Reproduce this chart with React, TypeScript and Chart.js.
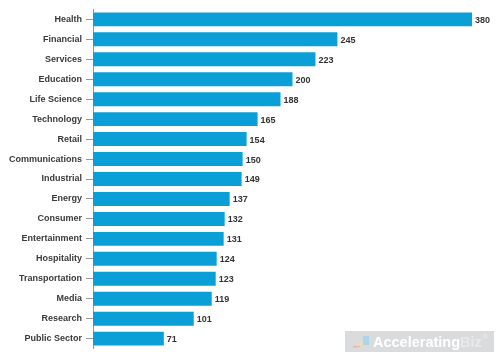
import React, { useEffect, useRef } from "react";
import { Chart, registerables } from "chart.js";

Chart.register(...registerables);

const categories = [
  "Health", "Financial", "Services", "Education", "Life Science", "Technology",
  "Retail", "Communications", "Industrial", "Energy", "Consumer", "Entertainment",
  "Hospitality", "Transportation", "Media", "Research", "Public Sector",
];
const values = [380, 245, 223, 200, 188, 165, 154, 150, 149, 137, 132, 131, 124, 123, 119, 101, 71];
const xMax = 400;
const watermarkMain = "Accelerating";
const watermarkEnd = "Biz";

const FONT = "'Liberation Sans', Arial, Helvetica, sans-serif";

const valueLabels = {
  id: "valueLabels",
  afterDatasetsDraw(chart: any) {
    const ctx = chart.ctx;
    const meta = chart.getDatasetMeta(0);
    ctx.save();
    ctx.font = `bold 9px ${FONT}`;
    ctx.fillStyle = "#333333";
    ctx.textAlign = "left";
    ctx.textBaseline = "middle";
    meta.data.forEach((bar: any, i: number) => {
      ctx.fillText(String(values[i]), bar.x + 3, bar.y + 1);
    });
    ctx.restore();
  },
};

const watermark = {
  id: "watermark",
  afterDraw(chart: any) {
    const ctx = chart.ctx;
    ctx.save();
    const x = 345, y = 331, w = 149, h = 21;
    ctx.fillStyle = "#d9dbdd";
    ctx.fillRect(x, y, w, h);
    // small icon
    ctx.lineWidth = 2;
    ctx.strokeStyle = "#f2b8b0";
    ctx.beginPath(); ctx.moveTo(x + 8, y + 16); ctx.lineTo(x + 15, y + 15); ctx.stroke();
    ctx.strokeStyle = "#f3e2a0";
    ctx.beginPath(); ctx.moveTo(x + 12, y + 14); ctx.lineTo(x + 20, y + 12); ctx.stroke();
    ctx.fillStyle = "#a9d6ea";
    ctx.fillRect(x + 18, y + 5, 6, 9);
    ctx.font = `bold 14.5px ${FONT}`;
    ctx.textBaseline = "middle";
    ctx.textAlign = "left";
    ctx.fillStyle = "#ffffff";
    const tx = x + 28;
    ctx.fillText(watermarkMain, tx, y + h / 2 + 1);
    const mw = ctx.measureText(watermarkMain).width;
    ctx.fillStyle = "#e8e9ea";
    ctx.fillText(watermarkEnd, tx + mw, y + h / 2 + 1);
    const bw = ctx.measureText(watermarkEnd).width;
    ctx.font = `bold 7px ${FONT}`;
    ctx.fillText("®", tx + mw + bw + 1, y + 6);
    ctx.restore();
  },
};

export default function App() {
  const ref = useRef<HTMLCanvasElement>(null);
  useEffect(() => {
    if (!ref.current) return;
    const chart = new Chart(ref.current, {
      type: "bar",
      data: {
        labels: categories,
        datasets: [
          {
            data: values,
            backgroundColor: "#0aa0d7",
            borderWidth: 0,
            barPercentage: 0.7,
            categoryPercentage: 1,
          },
        ],
      },
      options: {
        indexAxis: "y",
        animation: false,
        responsive: false,
        maintainAspectRatio: false,
        layout: { padding: { top: 8, bottom: 7, right: 8, left: 0 } },
        plugins: { legend: { display: false }, tooltip: { enabled: false } },
        scales: {
          x: { display: false, min: 0, max: xMax },
          y: {
            afterFit(scale: any) { scale.width = 93; },
            border: { display: true, color: "#999999", width: 1 },
            grid: { offset: false, drawOnChartArea: false, drawTicks: true, tickLength: 7, color: "#999999" },
            ticks: {
              padding: 4,
              color: "#3a3a3a",
              font: { family: FONT, size: 9, weight: "bold" },
            },
          },
        },
      },
      plugins: [valueLabels, watermark],
    });
    return () => chart.destroy();
  }, []);
  return (
    <div style={{ position: "fixed", left: 0, top: 0, width: 500, height: 358, background: "#fff" }}>
      <canvas ref={ref} width={500} height={358} />
    </div>
  );
}
